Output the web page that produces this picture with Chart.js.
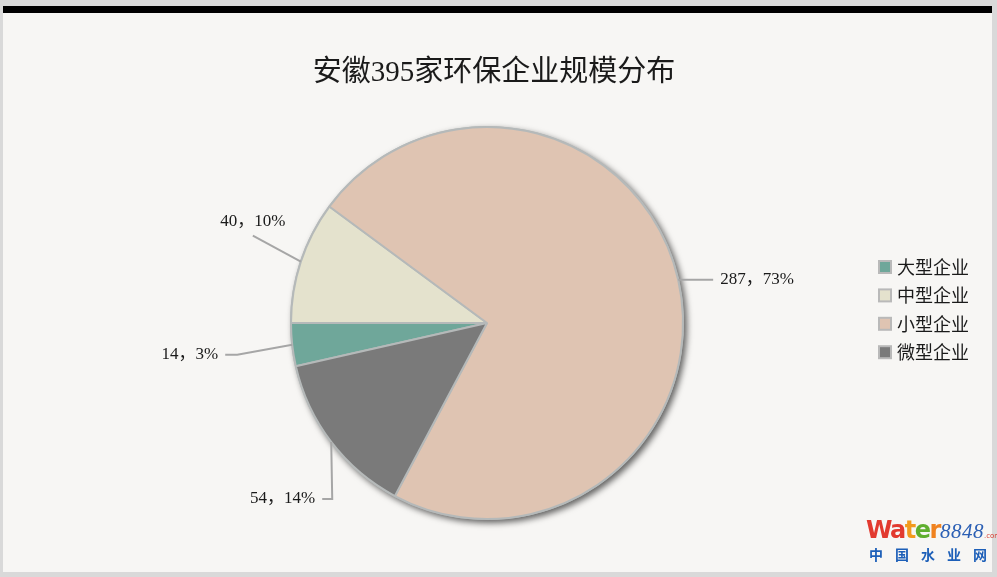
<!DOCTYPE html>
<html>
<head>
<meta charset="utf-8">
<script src="https://cdn.jsdelivr.net/npm/chart.js@4.4.1/dist/chart.umd.min.js"></script>
<style>
  html, body { margin: 0; padding: 0; }
  body { width: 997px; height: 577px; background: #d9d9d9; position: relative; overflow: hidden; }
  #frame { position: absolute; left: 3px; top: 6px; width: 989px; height: 566px; background: #f7f6f4; border-top: 7px solid #000; box-sizing: border-box; }
  #wrap { position: absolute; left: 0; top: 0; width: 989px; height: 559px; }
  #logo { position: absolute; left: 866px; top: 517px; width: 131px; white-space: nowrap; font-family: "DejaVu Sans", sans-serif; }
  #logo .w { font-weight: bold; font-size: 24px; letter-spacing: -1.5px; line-height: 26px; }
  #logo .n { font-family: "Liberation Serif", serif; font-style: italic; font-size: 21px; color: #2b5fb4; letter-spacing: 0.5px; }
  #logo .c { font-size: 7px; color: #d83a2c; }
  #logo .cn { font-family: "Noto Sans CJK SC", sans-serif; font-weight: bold; color: #1d5fb8; font-size: 14px; letter-spacing: 12px; line-height: 18px; margin-top: 1px; padding-left: 3px; }
</style>
</head>
<body>
<div id="frame">
  <div id="wrap"><canvas id="c" width="989" height="559"></canvas></div>
</div>
<div id="logo">
  <div><span class="w"><span style="color:#e23a2f">Wa</span><span style="color:#f29a1d">t</span><span style="color:#5fae2e">e</span><span style="color:#f0821f">r</span></span><span class="n">8848</span><span class="c">.com</span></div>
  <div class="cn">中国水业网</div>
</div>
<script>
// 安徽395家环保企业规模分布
const titleText = '安徽395家环保企业规模分布';
const categories = ['大型企业', '中型企业', '小型企业', '微型企业'];
const companyCounts = [14, 40, 287, 54];
const shownPercents = [3, 10, 73, 14];
const sliceColors = ['#6fa79a', '#e4e2cd', '#dfc4b2', '#7a7a7a'];

const total = companyCounts.reduce((a, b) => a + b, 0);
// first slice ends exactly at nine o'clock
const startRotation = 270 - companyCounts[0] / total * 360;

const serif = '"Liberation Serif", "Noto Sans CJK SC", serif';

// leader line geometry for each slice, relative to the slice's outer mid point
const leaders = [
  { path: [[-55, 10], [-67, 10]], text: [-7, 0], align: 'right' },
  { path: [[-48, -26]], text: [0, -14], align: 'center' },
  { path: [[2, 0], [35, 0]], text: [7, 0], align: 'left' },
  { path: [[1, 57], [-9, 57]], text: [-7, 0], align: 'right' }
];

const pieShadow = {
  id: 'pieShadow',
  beforeDatasetsDraw(chart) {
    const arc = chart.getDatasetMeta(0).data[0];
    if (!arc) return;
    const { x, y, outerRadius } = arc.getProps(['x', 'y', 'outerRadius'], true);
    const ctx = chart.ctx;
    ctx.save();
    ctx.shadowColor = 'rgba(0,0,0,0.6)';
    ctx.shadowBlur = 6;
    ctx.shadowOffsetX = 3;
    ctx.shadowOffsetY = 3;
    ctx.fillStyle = '#b5b9b9';
    ctx.beginPath();
    ctx.arc(x, y, outerRadius + 1, 0, Math.PI * 2);
    ctx.fill();
    ctx.restore();
  }
};

const sliceLabels = {
  id: 'sliceLabels',
  afterDatasetsDraw(chart) {
    const ctx = chart.ctx;
    const arcs = chart.getDatasetMeta(0).data;
    ctx.save();
    ctx.font = '17px ' + serif;
    ctx.fillStyle = '#1a1a1a';
    ctx.textBaseline = 'middle';
    arcs.forEach((arc, i) => {
      const p = arc.getProps(['x', 'y', 'startAngle', 'endAngle', 'outerRadius'], true);
      const mid = (p.startAngle + p.endAngle) / 2;
      const px = p.x + Math.cos(mid) * p.outerRadius;
      const py = p.y + Math.sin(mid) * p.outerRadius;
      const L = leaders[i];
      ctx.strokeStyle = '#a6a6a6';
      ctx.lineWidth = 2;
      ctx.beginPath();
      ctx.moveTo(px, py);
      let ex = px, ey = py;
      L.path.forEach(([dx, dy]) => { ex = px + dx; ey = py + dy; ctx.lineTo(ex, ey); });
      ctx.stroke();
      ctx.textAlign = L.align;
      ctx.fillText(companyCounts[i] + '，' + shownPercents[i] + '%', ex + L.text[0], ey + L.text[1]);
    });
    ctx.restore();
  }
};

const titleAndLegend = {
  id: 'titleAndLegend',
  afterDraw(chart) {
    const ctx = chart.ctx;
    ctx.save();
    ctx.fillStyle = '#1a1a1a';
    ctx.textAlign = 'center';
    ctx.textBaseline = 'middle';
    ctx.font = '29px ' + serif;
    ctx.fillText(titleText, 491, 60);

    ctx.font = '18px "Noto Sans CJK SC", sans-serif';
    ctx.textAlign = 'left';
    categories.forEach((name, i) => {
      const cy = 254 + i * 28.4;
      ctx.fillStyle = sliceColors[i];
      ctx.fillRect(876, cy - 6, 12, 12);
      ctx.strokeStyle = '#b9b9b9';
      ctx.lineWidth = 2;
      ctx.strokeRect(876, cy - 6, 12, 12);
      ctx.fillStyle = '#1a1a1a';
      ctx.fillText(name, 894, cy);
    });
    ctx.restore();
  }
};

new Chart(document.getElementById('c'), {
  type: 'pie',
  data: {
    labels: categories,
    datasets: [{
      data: companyCounts,
      backgroundColor: sliceColors,
      borderColor: '#b5b9b9',
      borderWidth: 2,
      hoverOffset: 0,
      offset: 0
    }]
  },
  options: {
    responsive: false,
    animation: false,
    events: [],
    rotation: startRotation,
    radius: 196,
    layout: { padding: { left: 0, right: 21, top: 61, bottom: 0 } },
    plugins: {
      legend: { display: false },
      title: { display: false },
      tooltip: { enabled: false }
    }
  },
  plugins: [pieShadow, sliceLabels, titleAndLegend]
});
</script>
</body>
</html>
